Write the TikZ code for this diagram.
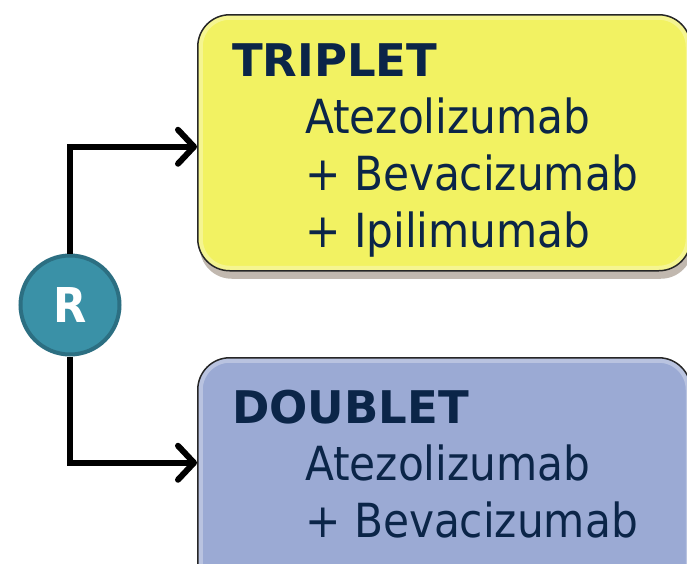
\documentclass[tikz,border=0pt]{standalone}
\usepackage{fontspec}
\setmainfont{DejaVu Sans Condensed}
\newfontfamily\armtitlefont{DejaVu Sans}
\usetikzlibrary{shadows}
\usetikzlibrary{arrows.meta, positioning}

\definecolor{navytext}{HTML}{0B2548}
\definecolor{tripletyellow}{HTML}{F2F262}
\definecolor{doubletblue}{HTML}{9BAAD4}
\definecolor{randteal}{HTML}{3A91A7}
\definecolor{randedge}{HTML}{2C6F82}

\newcommand{\armdrug}[1]{\hspace*{73pt}#1}
\newcommand{\armtitle}[1]{{\armtitlefont\fontsize{45}{57}\selectfont\bfseries #1}}

\tikzset{
	armbox/.style={draw=black!85, line width=1.5pt, rounded corners=32pt,
		minimum width=493pt, minimum height=256pt, anchor=north west,
		drop shadow={shadow xshift=2pt, shadow yshift=-8pt, opacity=.35, fill=black!60!brown},
		path picture={\draw[line width=10pt, white, opacity=.3, rounded corners=32pt]
			(path picture bounding box.south west) rectangle (path picture bounding box.north east);}},
	armtext/.style={align=left, inner sep=0pt, text=navytext, font=\fontsize{47}{57}\selectfont},
	randnode/.style={circle, fill=randteal, draw=randedge, line width=4pt, minimum size=99pt,
		inner sep=0pt, text=white, font=\fontsize{48}{48}\selectfont\bfseries},
	armarrow/.style={-{Straight Barb[round, length=16pt, width=34pt]}, line width=6pt}
}

\begin{document}
\begin{tikzpicture}[x=1pt, y=-1pt]
		\useasboundingbox (0,0) rectangle (687,563);
		\clip (0,0) rectangle (687,563);
		
		% Draw the two arms
		\node[armbox, fill=tripletyellow] (triplet) at (197,14) {};
		\node[armbox, fill=doubletblue] (doublet) at (197,357) {};
		
		% Texts of the arms
		\node[armtext, below right=29pt and 35pt of triplet.north west] (tripletText)
			{\armtitle{TRIPLET}\\\armdrug{Atezolizumab}\\\armdrug{+ Bevacizumab}\\\armdrug{+ Ipilimumab}};
		\node[armtext, below right=33pt and 35pt of doublet.north west] (doubletText)
			{\armtitle{DOUBLET}\\\armdrug{Atezolizumab}\\\armdrug{+ Bevacizumab}};
		
		% Randomisation
		\node[randnode] (rand) at (70,305) {R};
		
		% Draw the arrows to the arms
		\draw[armarrow] (rand.north) |- ([yshift=-4pt]triplet.west);
		\draw[armarrow] (rand.south) |- ([yshift=23pt]doublet.west);
\end{tikzpicture}
\end{document}
